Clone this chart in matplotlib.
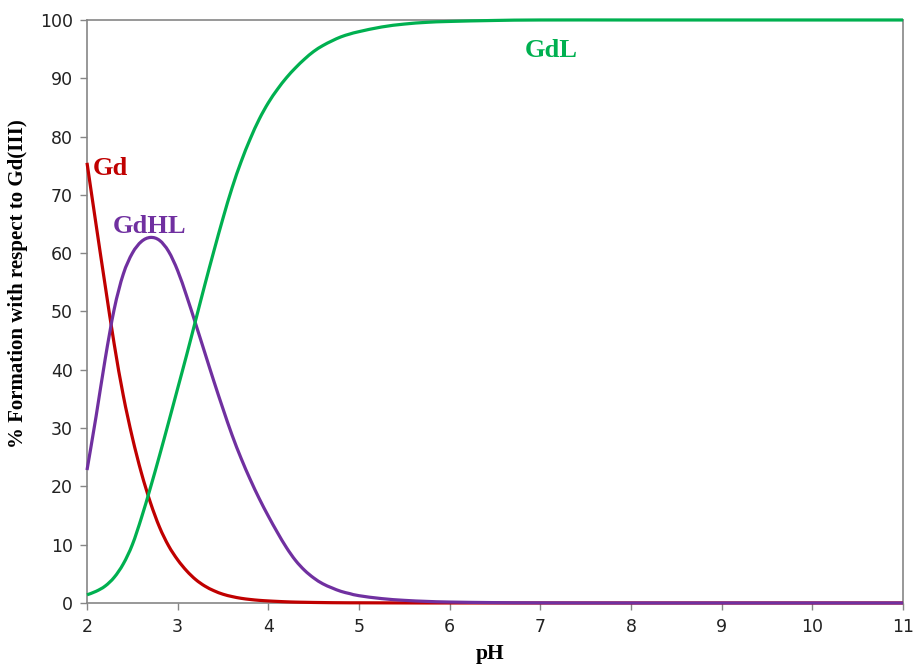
import matplotlib
matplotlib.use("Agg")
import matplotlib.pyplot as plt
from matplotlib.path import Path
from matplotlib.patches import PathPatch

# Values (% formation vs pH)
ph = [2.0, 2.1, 2.2, 2.3, 2.4, 2.5, 2.6, 2.7, 2.8, 2.9,
      3.0, 3.1, 3.2, 3.3, 3.4, 3.5, 3.6, 3.7, 3.8, 3.9,
      4.0, 4.1, 4.2, 4.3, 4.4, 4.5, 4.6, 4.7, 4.8, 4.9,
      5.0, 5.25, 5.5, 5.75, 6.0, 6.5, 7.0, 8.0, 9.0, 10.0, 11.0]

gd = [75.5, 64.9, 54.5, 44.4, 35.6, 28.4, 22.3, 17.2, 13.0, 9.8,
      7.4, 5.5, 4.0, 2.9, 2.1, 1.5, 1.1, 0.8, 0.6, 0.45,
      0.35, 0.27, 0.2, 0.15, 0.12, 0.09, 0.07, 0.05, 0.04, 0.03,
      0.03, 0.02, 0.01, 0.0, 0.0, 0.0, 0.0, 0.0, 0.0, 0.0, 0.0]

gdhl = [22.8, 32.0, 41.8, 50.4, 56.4, 60.0, 62.0, 62.7, 62.2, 60.3,
        57.0, 52.6, 47.8, 42.9, 38.0, 33.3, 28.8, 24.8, 21.2, 17.9,
        14.9, 12.1, 9.5, 7.3, 5.6, 4.3, 3.3, 2.6, 2.0, 1.6,
        1.25, 0.75, 0.45, 0.27, 0.16, 0.06, 0.02, 0.0, 0.0, 0.0, 0.0]

gdl = [1.4, 2.0, 2.9, 4.4, 6.7, 10.0, 14.6, 19.8, 25.3, 31.0,
       36.8, 42.6, 48.6, 54.6, 60.4, 66.0, 71.2, 75.7, 79.6, 83.0,
       85.8, 88.1, 90.1, 91.8, 93.3, 94.6, 95.6, 96.4, 97.1, 97.6,
       98.0, 98.8, 99.3, 99.6, 99.75, 99.92, 100.0, 100.0, 100.0, 100.0, 100.0]

x_ticks = [2, 3, 4, 5, 6, 7, 8, 9, 10, 11]
y_ticks = [0, 10, 20, 30, 40, 50, 60, 70, 80, 90, 100]

RED = "#C00000"
PURPLE = "#7030A0"
GREEN = "#00B050"
GRAY = "#868686"


def smooth_path(xs, ys):
    # Catmull-Rom through the read points, drawn as cubic beziers (like Excel smoothed lines)
    n = len(xs)
    verts = [(xs[0], ys[0])]
    codes = [Path.MOVETO]
    for i in range(n - 1):
        a = i - 1 if i > 0 else i
        d = i + 2 if i + 2 < n else i + 1
        c1 = (xs[i] + (xs[i + 1] - xs[a]) / 6, ys[i] + (ys[i + 1] - ys[a]) / 6)
        c2 = (xs[i + 1] - (xs[d] - xs[i]) / 6, ys[i + 1] - (ys[d] - ys[i]) / 6)
        verts += [c1, c2, (xs[i + 1], ys[i + 1])]
        codes += [Path.CURVE4] * 3
    return Path(verts, codes)


fig = plt.figure(figsize=(9.13, 6.64), dpi=100)
ax = fig.add_axes([0.0953, 0.0919, 0.8937, 0.8780])

for ys, col in [(gd, RED), (gdhl, PURPLE), (gdl, GREEN)]:
    patch = PathPatch(smooth_path(ph, ys), facecolor="none", edgecolor=col,
                      lw=2.3, zorder=3, clip_on=False)
    ax.add_patch(patch)

ax.set_xlim(2, 11)
ax.set_ylim(0, 100)
ax.set_xticks(x_ticks)
ax.set_yticks(y_ticks)
ax.tick_params(direction="out", length=5, width=1, color=GRAY,
               labelsize=12.5, labelcolor="#222222")
ax.tick_params(axis="x", pad=6)
ax.tick_params(axis="y", pad=5)
for s in ax.spines.values():
    s.set_color(GRAY)
    s.set_linewidth(1.2)

serif = ["Liberation Serif", "DejaVu Serif"]
ax.set_xlabel("pH", family=serif, fontweight="bold", fontsize=15.5)
ax.xaxis.set_label_coords(0.494, -0.071)
ax.set_ylabel("% Formation with respect to Gd(III)", family=serif,
              fontweight="bold", fontsize=15)
ax.yaxis.set_label_coords(-0.072, 0.547)

# species labels
ax.text(2.066, 73.4, "Gd", color=RED, family=serif, fontweight="bold", fontsize=19)
ax.text(2.287, 63.5, "GdHL", color=PURPLE, family=serif, fontweight="bold", fontsize=19)
ax.text(6.83, 93.7, "GdL", color=GREEN, family=serif, fontweight="bold", fontsize=19)

fig.savefig("out.png", dpi=100)
